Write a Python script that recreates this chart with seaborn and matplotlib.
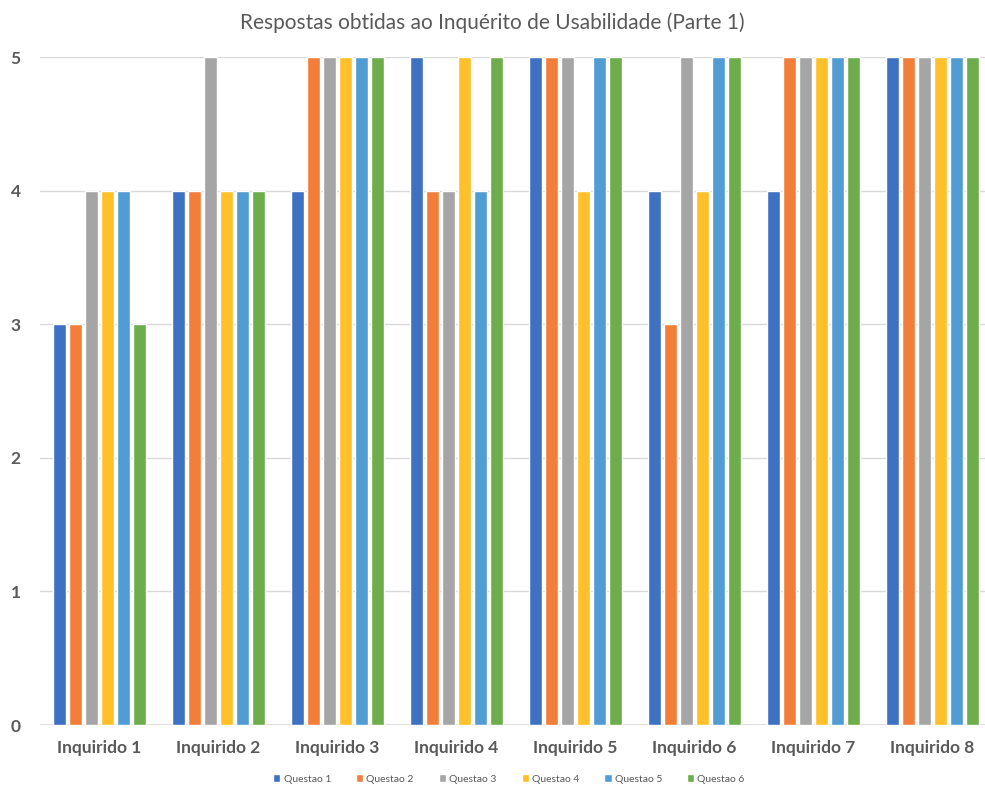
import matplotlib
matplotlib.use("Agg")
import matplotlib.pyplot as plt
import seaborn as sns
import pandas as pd

# Survey answers per respondent (scale 0-5)
inquiridos = ["Inquirido 1", "Inquirido 2", "Inquirido 3", "Inquirido 4",
              "Inquirido 5", "Inquirido 6", "Inquirido 7", "Inquirido 8"]
questoes = ["Questao 1", "Questao 2", "Questao 3", "Questao 4", "Questao 5", "Questao 6"]

questao_1 = [3, 4, 4, 5, 5, 4, 4, 5]
questao_2 = [3, 4, 5, 4, 5, 3, 5, 5]
questao_3 = [4, 5, 5, 4, 5, 5, 5, 5]
questao_4 = [4, 4, 5, 5, 4, 4, 5, 5]
questao_5 = [4, 4, 5, 4, 5, 5, 5, 5]
questao_6 = [3, 4, 5, 5, 5, 5, 5, 5]

cores = ["#3F71C3", "#F27E3A", "#A5A5A5", "#FFC02A", "#529CD4", "#6DAD4B"]

series = [questao_1, questao_2, questao_3, questao_4, questao_5, questao_6]
rows = []
for q, vals in zip(questoes, series):
    for inq, v in zip(inquiridos, vals):
        rows.append({"Inquirido": inq, "Questao": q, "Resposta": v})
df = pd.DataFrame(rows)

sns.set_theme(style="white")
plt.rcParams["font.family"] = ["Lato", "DejaVu Sans"]

fig = plt.figure(figsize=(9.85, 7.96), dpi=100)
ax = fig.add_axes([40 / 985, 71 / 796, 952 / 985, 668 / 796])

sns.barplot(data=df, x="Inquirido", y="Resposta", hue="Questao",
            order=inquiridos, hue_order=questoes, palette=cores,
            width=0.8, gap=0.18, saturation=1, ax=ax, legend=True)

ax.set_ylim(0, 5)
ax.set_yticks(range(0, 6))
ax.yaxis.grid(True, color="#D9D9D9", linewidth=1.0)
ax.set_axisbelow(True)
for s in ax.spines.values():
    s.set_visible(False)
ax.axhline(0, color="#D9D9D9", linewidth=1.2, zorder=0)
ax.set_xlabel("")
ax.set_ylabel("")
ax.tick_params(axis="both", length=0, labelcolor="#595959", labelsize=12.5)
ax.tick_params(axis="x", pad=11)
ax.tick_params(axis="y", pad=14)
for lab in ax.get_xticklabels() + ax.get_yticklabels():
    lab.set_fontweight("bold")

fig.text(0.5, 1 - 23 / 796, "Respostas obtidas ao Inquérito de Usabilidade (Parte 1)",
         ha="center", va="center", fontsize=15, color="#595959")

ax.legend(loc="center", bbox_to_anchor=(509 / 985, 1 - 779 / 796),
          bbox_transform=fig.transFigure, ncol=6, frameon=False,
          fontsize=7.5, handlelength=0.7, handleheight=0.7, handletextpad=0.3,
          columnspacing=2.4, labelcolor="#595959")

fig.savefig("out.png", dpi=100)
